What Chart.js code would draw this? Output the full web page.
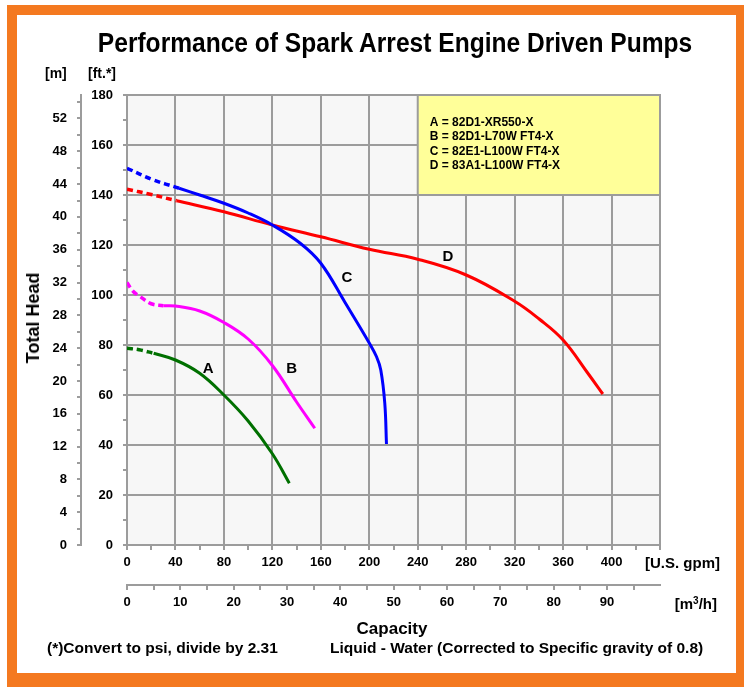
<!DOCTYPE html>
<html>
<head>
<meta charset="utf-8">
<script src="https://cdn.jsdelivr.net/npm/chart.js@4.4.0/dist/chart.umd.min.js"></script>
<style>
  body { margin: 0; background: #fff; font-family: "Liberation Sans", Arial, sans-serif; }
  #wrap { position: relative; width: 744px; height: 687px; overflow: hidden; }
  #frame { position: absolute; left: 7px; top: 5px; right: 0; bottom: 0; border-style: solid;
           border-color: #F47920; border-width: 10px 8px 14px 10px; }
  #myChart { position: absolute; left: 0; top: 0; }
  .t { position: absolute; font-weight: bold; color: #000; white-space: nowrap; line-height: 1; }
  #title { left: 395px; top: 29px; font-size: 28px; transform-origin: 50% 50%; }
</style>
</head>
<body>
<div id="wrap">
  <div id="frame"></div>
  <canvas id="myChart" width="744" height="687"></canvas>
  <div class="t" id="title">Performance of Spark Arrest Engine Driven Pumps</div>
  <div class="t" style="left:45px;top:66px;font-size:14px;">[m]</div>
  <div class="t" style="left:88px;top:66px;font-size:14px;">[ft.*]</div>
  <div class="t" style="left:33px;top:318px;font-size:18px;transform:translate(-50%,-50%) rotate(-90deg);">Total Head</div>
  <div class="t" style="right:24px;top:555px;font-size:15px;">[U.S. gpm]</div>
  <div class="t" style="right:27px;top:596px;font-size:15px;">[m<sup style="font-size:10px;vertical-align:5px;">3</sup>/h]</div>
  <div class="t" style="left:392px;top:620px;font-size:17px;transform:translateX(-50%);">Capacity</div>
  <div class="t" style="left:47px;top:640px;font-size:15.5px;">(*)Convert to psi, divide by 2.31</div>
  <div class="t" style="left:330px;top:640px;font-size:15.5px;">Liquid - Water (Corrected to Specific gravity of 0.8)</div>
</div>
<script>
// curve A  82D1-XR550-X
const aDashGpm = [0, 10, 22];
const aDashFt  = [78.7, 78.1, 76.7];
const aGpm = [22, 40, 60, 80, 100, 120, 134];
const aFt  = [76.7, 74, 68.7, 60, 49.6, 36.5, 24.7];
// curve B  82D1-L70W FT4-X
const bDashGpm = [0, 5, 11, 20, 30];
const bDashFt  = [105, 101.5, 99.3, 96.5, 95.7];
const bGpm = [30, 40, 60, 80, 100, 120, 140, 155];
const bFt  = [95.7, 95.6, 93.6, 89, 82.4, 71.8, 57.2, 46.7];
// curve C  82E1-L100W FT4-X
const cDashGpm = [0, 21, 43];
const cDashFt  = [150.7, 146.2, 142.7];
const cGpm = [43, 60, 80, 100, 120, 143, 160, 180, 200, 206, 209.5, 212.8, 214.2];
const cFt  = [142.7, 140, 136.7, 132.8, 128, 120.7, 112.7, 97, 80.8, 75.3, 70, 56.7, 40.4];
// curve D  83A1-L100W FT4-X
const dDashGpm = [0, 20, 41];
const dDashFt  = [142.3, 140.2, 137.7];
const dGpm = [41, 80, 120, 160, 200, 240, 280, 320, 340, 360, 380, 392.8];
const dFt  = [137.7, 133.3, 128, 123.3, 118.3, 114.3, 108, 97.5, 90.5, 82, 69, 60.4];

const labelText = ['A', 'B', 'C', 'D'];
const labelGpm  = [67, 136, 181.5, 265];
const labelFt   = [70.5, 70.5, 106.7, 115.3];

const legendLines = ['A = 82D1-XR550-X', 'B = 82D1-L70W FT4-X', 'C = 82E1-L100W FT4-X', 'D = 83A1-L100W FT4-X'];

const GPM_PER_M3H = 4.40287;
const FT_PER_M = 3.28084;
const gpmMax = 440;
const ftMax = 180;

const gridGray = '#9C9C9C';
const tickFont = { family: '"Liberation Sans", Arial, sans-serif', size: 13, weight: 'bold' };

function pts(xs, ys) {
    return xs.map((v, i) => ({ x: v, y: ys[i] }));
}
function curve(xs, ys, color, dashed) {
    return {
        data: pts(xs, ys),
        borderColor: color,
        borderWidth: dashed ? 3.5 : 3,
        borderDash: dashed ? [6, 4] : [],
        pointRadius: 0,
        fill: false,
        tension: 0.4,
        xAxisID: 'x',
        yAxisID: 'y'
    };
}

const extras = {
    id: 'extras',
    beforeDraw(chart) {
        const { ctx, chartArea: a } = chart;
        ctx.save();
        ctx.fillStyle = '#F7F7F7';
        ctx.fillRect(a.left, a.top, a.width, a.height);
        ctx.restore();
    },
    beforeDatasetsDraw(chart) {
        const ctx = chart.ctx;
        const sx = chart.scales.x, sy = chart.scales.y;
        const l = sx.getPixelForValue(240), r = sx.getPixelForValue(440);
        const t = sy.getPixelForValue(180), b = sy.getPixelForValue(140);
        ctx.save();
        ctx.fillStyle = '#FFFF99';
        ctx.fillRect(l, t, r - l, b - t);
        ctx.strokeStyle = gridGray;
        ctx.lineWidth = 2;
        ctx.strokeRect(l, t, r - l, b - t);
        ctx.fillStyle = '#000';
        ctx.font = 'bold 12px "Liberation Sans", Arial, sans-serif';
        ctx.textBaseline = 'middle';
        legendLines.forEach((s, i) => ctx.fillText(s, l + 12, t + 27.5 + i * 14.5));
        ctx.restore();
    },
    afterDatasetsDraw(chart) {
        const ctx = chart.ctx;
        const sx = chart.scales.x, sy = chart.scales.y;
        ctx.save();
        ctx.fillStyle = '#000';
        ctx.font = 'bold 15px "Liberation Sans", Arial, sans-serif';
        ctx.textAlign = 'center';
        ctx.textBaseline = 'middle';
        labelText.forEach((s, i) => ctx.fillText(s, sx.getPixelForValue(labelGpm[i]), sy.getPixelForValue(labelFt[i])));
        ctx.restore();
    }
};

const ctx1 = document.getElementById('myChart');

new Chart(ctx1, {
    type: 'line',
    data: {
        datasets: [
            curve(aDashGpm, aDashFt, '#007000', true),
            curve(aGpm, aFt, '#007000', false),
            curve(bDashGpm, bDashFt, '#FF00FF', true),
            curve(bGpm, bFt, '#FF00FF', false),
            curve(cDashGpm, cDashFt, '#0000FF', true),
            curve(cGpm, cFt, '#0000FF', false),
            curve(dDashGpm, dDashFt, '#FF0000', true),
            curve(dGpm, dFt, '#FF0000', false)
        ]
    },
    options: {
        responsive: false,
        devicePixelRatio: 1,
        animation: false,
        layout: { padding: { left: 41, right: 84, top: 95, bottom: 72 } },
        plugins: {
            legend: { display: false },
            tooltip: { enabled: false }
        },
        scales: {
            x: {
                type: 'linear', position: 'bottom', weight: 0,
                min: 0, max: gpmMax,
                ticks: {
                    stepSize: 20, autoSkip: false, maxRotation: 0, padding: 5,
                    color: '#000', font: tickFont,
                    callback: v => (v % 40 === 0 && v <= 400) ? v : ''
                },
                grid: {
                    color: c => (c.tick && c.tick.value % 40 === 0) ? gridGray : 'rgba(0,0,0,0)',
                    tickColor: gridGray, lineWidth: 2, tickWidth: 2, tickLength: 5
                },
                border: { color: gridGray, width: 2 },
                afterFit: s => { s.height = 40; }
            },
            x2: {
                type: 'linear', position: 'bottom', weight: 1,
                min: 0, max: gpmMax / GPM_PER_M3H,
                ticks: {
                    stepSize: 5, autoSkip: false, includeBounds: false, maxRotation: 0, padding: 5,
                    color: '#000', font: tickFont,
                    callback: v => (v % 10 === 0 && v <= 90) ? v : ''
                },
                grid: { drawOnChartArea: false, tickColor: gridGray, lineWidth: 2, tickWidth: 2, tickLength: 5 },
                border: { color: gridGray, width: 2 },
                afterFit: s => { s.height = 30; }
            },
            y: {
                type: 'linear', position: 'left', weight: 0,
                min: 0, max: ftMax,
                ticks: {
                    stepSize: 10, autoSkip: false, padding: 10,
                    color: '#000', font: tickFont,
                    callback: v => (v % 20 === 0) ? v : ''
                },
                grid: {
                    color: c => (c.tick && c.tick.value % 20 === 0) ? gridGray : 'rgba(0,0,0,0)',
                    tickColor: gridGray, lineWidth: 2, tickWidth: 2, tickLength: 4
                },
                border: { color: gridGray, width: 2 },
                afterFit: s => { s.width = 46; }
            },
            y2: {
                type: 'linear', position: 'left', weight: 1,
                min: 0, max: ftMax / FT_PER_M,
                ticks: {
                    stepSize: 2, autoSkip: false, includeBounds: false, padding: 10,
                    color: '#000', font: tickFont,
                    callback: v => (v % 4 === 0) ? v : ''
                },
                grid: { drawOnChartArea: false, tickColor: gridGray, lineWidth: 2, tickWidth: 2, tickLength: 4 },
                border: { color: gridGray, width: 2 },
                afterFit: s => { s.width = 40; }
            }
        }
    },
    plugins: [extras]
});

// squeeze the title to the width it has in the original (condensed face)
const title = document.getElementById('title');
const tw = title.offsetWidth;
title.style.transform = 'translateX(-50%) scaleX(' + (594 / tw) + ')';
</script>
</body>
</html>
